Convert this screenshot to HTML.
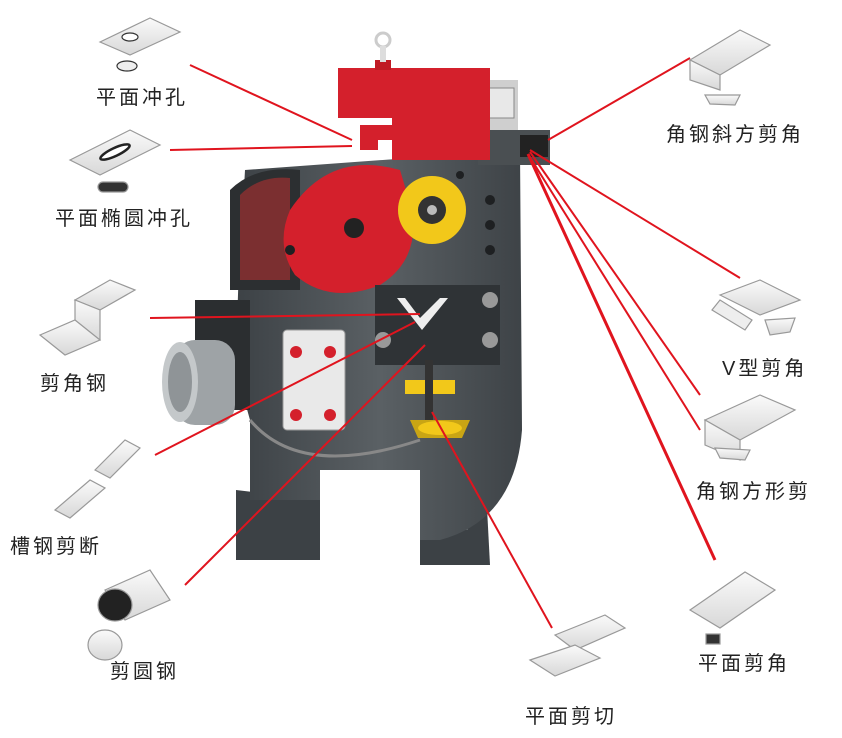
<!DOCTYPE html>
<html><head><meta charset="utf-8"><style>
html,body{margin:0;padding:0;background:#fff;}
svg{display:block}
text{font-family:"Liberation Sans","Noto Sans CJK SC",sans-serif;font-size:20px;letter-spacing:3px;fill:#222}
</style></head><body>
<svg width="842" height="738" viewBox="0 0 842 738" xmlns="http://www.w3.org/2000/svg">
<defs>
<linearGradient id="pl" x1="0" y1="0" x2="0" y2="1"><stop offset="0" stop-color="#fafafa"/><stop offset="1" stop-color="#d8d8d8"/></linearGradient>
<linearGradient id="body" x1="0" y1="0" x2="1" y2="0"><stop offset="0" stop-color="#3d4246"/><stop offset="0.5" stop-color="#5a6064"/><stop offset="1" stop-color="#3e4347"/></linearGradient>
</defs>

<polygon points="236,490 320,500 320,560 236,560" fill="#3c4145"/>
<polygon points="420,470 485,470 490,565 420,565" fill="#3c4145"/>
<rect x="440" y="470" width="28" height="60" fill="#5d6266"/>
<path d="M245,170 L520,150 L522,430 Q515,520 440,540 L420,540 L420,470 L320,470 L320,500 L250,500 L250,420 Q232,360 240,260 Z" fill="url(#body)"/>
<path d="M230,190 Q255,165 300,170 L300,290 L230,290 Z" fill="#2c2f31"/>
<path d="M240,195 Q260,175 290,178 L290,280 L240,280 Z" fill="#b03030" opacity="0.6"/>
<rect x="478" y="80" width="40" height="55" fill="#cfcfcf"/>
<rect x="488" y="88" width="26" height="30" fill="#e8e8e8" stroke="#888"/>
<rect x="478" y="130" width="72" height="35" fill="#4a4f52"/>
<rect x="520" y="135" width="28" height="22" fill="#222"/>
<path d="M338,68 L490,68 L490,160 L392,160 L392,140 L378,140 L378,150 L360,150 L360,125 L392,125 L392,118 L338,118 Z" fill="#d4202c"/>
<rect x="375" y="60" width="16" height="10" fill="#c01a24"/>
<circle cx="383" cy="40" r="7" fill="none" stroke="#ccc" stroke-width="3"/>
<rect x="380" y="46" width="6" height="16" fill="#ddd"/>
<path d="M290,210 Q330,150 400,170 L412,210 Q420,260 380,285 Q330,305 295,275 Q275,245 290,210 Z" fill="#d4202c"/>
<circle cx="354" cy="228" r="10" fill="#222"/>
<circle cx="432" cy="210" r="34" fill="#f2c81a"/>
<circle cx="432" cy="210" r="14" fill="#333"/>
<circle cx="432" cy="210" r="5" fill="#bbb"/>
<g fill="#1e2022"><circle cx="490" cy="200" r="5"/><circle cx="490" cy="225" r="5"/><circle cx="490" cy="250" r="5"/><circle cx="290" cy="250" r="5"/><circle cx="460" cy="175" r="4"/></g>
<rect x="375" y="285" width="125" height="80" fill="#2f3336"/>
<polygon points="405,298 420,318 440,298 448,298 422,330 397,298" fill="#eee"/>
<circle cx="383" cy="340" r="8" fill="#999"/><circle cx="490" cy="300" r="8" fill="#999"/><circle cx="490" cy="340" r="8" fill="#999"/>
<rect x="405" y="380" width="50" height="14" fill="#f2c81a"/>
<rect x="425" y="360" width="8" height="60" fill="#333"/>
<polygon points="410,420 470,420 462,438 418,438" fill="#c9a514"/>
<ellipse cx="440" cy="428" rx="22" ry="7" fill="#f2c81a"/>
<rect x="195" y="300" width="55" height="110" fill="#2b2e30"/>
<rect x="175" y="340" width="60" height="85" rx="20" fill="#9ea3a6"/>
<ellipse cx="180" cy="382" rx="18" ry="40" fill="#c4c8ca"/>
<ellipse cx="180" cy="382" rx="12" ry="30" fill="#8f9497"/>
<rect x="283" y="330" width="62" height="100" rx="4" fill="#e9e9e9" stroke="#999"/>
<circle cx="296" cy="352" r="6" fill="#d4202c"/><circle cx="330" cy="352" r="6" fill="#d4202c"/>
<circle cx="296" cy="415" r="6" fill="#d4202c"/><circle cx="330" cy="415" r="6" fill="#d4202c"/>
<path d="M250,420 Q300,480 420,440" fill="none" stroke="#888" stroke-width="3"/>

<g stroke="#e0141e" stroke-width="2" fill="none">
<line x1="190" y1="65" x2="352" y2="140"/>
<line x1="170" y1="150" x2="352" y2="146"/>
<line x1="150" y1="318" x2="420" y2="314"/>
<line x1="155" y1="455" x2="415" y2="322"/>
<line x1="185" y1="585" x2="425" y2="345"/>
<line x1="552" y1="628" x2="432" y2="412"/>
<line x1="548" y1="140" x2="690" y2="58"/>
<line x1="530" y1="150" x2="740" y2="278"/>
<line x1="530" y1="152" x2="700" y2="395"/>
<line x1="528" y1="154" x2="715" y2="560" stroke-width="3"/>
<line x1="528" y1="154" x2="700" y2="430"/>
</g>

<g stroke="#999" stroke-width="1.2" fill="url(#pl)">
<polygon points="100,42 150,18 180,32 130,55"/><ellipse cx="130" cy="37" rx="8" ry="4" fill="#fff" stroke="#333"/>
<ellipse cx="127" cy="66" rx="10" ry="5" fill="#eee" stroke="#333"/>
<polygon points="70,160 130,130 160,145 100,175"/><ellipse cx="115" cy="152" rx="16" ry="4" fill="#fff" stroke="#222" stroke-width="2.5" transform="rotate(-25 115 152)"/>
<rect x="98" y="182" width="30" height="10" rx="5" fill="#333"/>
<polygon points="75,300 110,280 135,290 100,310"/><polygon points="75,300 75,330 100,340 100,310"/>
<polygon points="40,335 75,320 100,340 65,355"/>
<polygon points="95,470 125,440 140,448 110,478"/><polygon points="55,510 90,480 105,488 70,518"/>
<polygon points="105,590 150,570 170,600 125,620"/><ellipse cx="115" cy="605" rx="17" ry="16" fill="#222"/>
<ellipse cx="105" cy="645" rx="17" ry="15"/>
<polygon points="555,635 605,615 625,628 575,650"/><polygon points="530,660 575,645 600,658 555,676"/>
<polygon points="690,610 745,572 775,590 720,628"/><rect x="706" y="634" width="14" height="10" fill="#333"/>
<polygon points="705,420 760,395 795,410 740,440"/><polygon points="705,420 705,445 740,460 740,440"/><polygon points="715,448 750,450 745,460 720,458"/>
<polygon points="720,295 760,280 800,300 760,315"/><polygon points="712,310 745,330 752,320 720,300" fill="#eee"/><polygon points="765,320 795,318 790,332 770,335"/>
<polygon points="690,60 740,30 770,45 720,75"/><polygon points="690,60 690,80 720,90 720,75"/><polygon points="705,95 740,95 735,105 710,104"/>
</g>

<text x="96" y="104">平面冲孔</text>
<text x="55" y="225">平面椭圆冲孔</text>
<text x="40" y="390">剪角钢</text>
<text x="10" y="553">槽钢剪断</text>
<text x="110" y="678">剪圆钢</text>
<text x="525" y="723">平面剪切</text>
<text x="698" y="670">平面剪角</text>
<text x="696" y="498">角钢方形剪</text>
<text x="722" y="375">V型剪角</text>
<text x="666" y="141">角钢斜方剪角</text>
</svg>
</body></html>
